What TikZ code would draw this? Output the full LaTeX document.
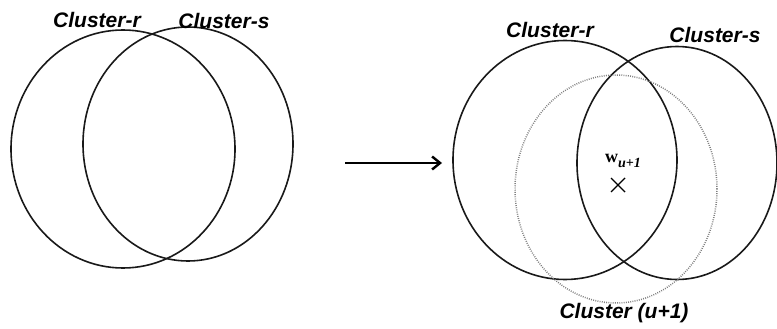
\documentclass[tikz,border=0pt]{standalone}
\usepackage{fontspec}
\setmainfont{Liberation Sans}
\newfontfamily\wfont{Liberation Serif}
\usetikzlibrary{shapes.geometric,arrows.meta}
\begin{document}
\begin{tikzpicture}[x=1pt,y=-1pt,
  clu/.style={ellipse,draw=black!90,line width=1.6pt,inner sep=0pt},
  dclu/.style={ellipse,draw=black!50,dash pattern=on 0.9pt off 1.3pt,line width=1.5pt,inner sep=0pt},
  lab/.style={font=\fontsize{21}{24}\selectfont\bfseries\itshape,inner sep=0pt},
  arr/.style={line width=2.4pt,-{Straight Barb[length=8pt,width=13pt,line width=2.4pt]}}]
\useasboundingbox (0,0) rectangle (777,329);
% left
\node[clu,minimum width=224pt,minimum height=238pt] (lr) at (123,149) {};
\node[clu,minimum width=210pt,minimum height=234pt] (ls) at (188,144) {};
\node[lab] (lrl) at (97,20) {Cluster-r};
\node[lab] (lsl) at (224,21) {Cluster-s};
% arrow
\coordinate (a1) at (345,163);
\coordinate (a2) at (442,163);
\draw[arr] (a1) -- (a2);
% right
\node[clu,minimum width=224pt,minimum height=239pt] (rr) at (565,160) {};
\node[clu,minimum width=200pt,minimum height=233pt] (rs) at (677,163) {};
\node[dclu,minimum width=202pt,minimum height=228pt] (ru) at (616,189) {};
\node[lab] (rrl) at (550,30) {Cluster-r};
\node[lab] (rsl) at (715,35) {Cluster-s};
\node[lab] (rul) at (624,313) {Cluster (u+1)};
\node[inner sep=0pt] (w) at (623,161) {\wfont\fontsize{18}{20}\selectfont\bfseries w\raisebox{-5pt}{\fontsize{14}{16}\selectfont\itshape u+1}};
\coordinate (xc) at (618,185);
\draw[line width=1.4pt] ([shift={(-7,-7)}]xc) -- ([shift={(7,7)}]xc) ([shift={(-7,7)}]xc) -- ([shift={(7,-7)}]xc);
\end{tikzpicture}
\end{document}
